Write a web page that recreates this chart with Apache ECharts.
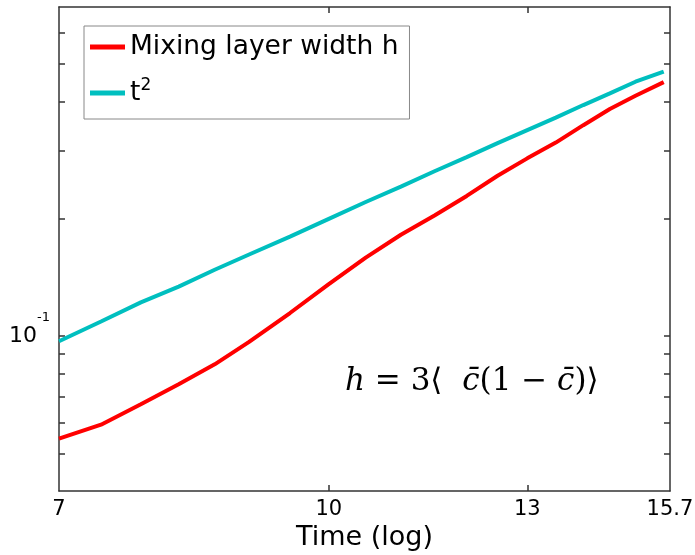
<!DOCTYPE html>
<html>
<head>
<meta charset="utf-8">
<script src="https://cdn.jsdelivr.net/npm/echarts@6/dist/echarts.min.js"></script>
<style>
html,body{margin:0;padding:0;background:#fff;}
#chart{width:695px;height:555px;}
</style>
</head>
<body>
<div id="chart"></div>
<script>
// Data
const times = [7, 7.4, 7.8, 8.2, 8.6, 9.0, 9.5, 10, 10.5, 11, 11.5, 12, 12.5, 13, 13.5, 14, 14.5, 15, 15.57];
const mixingWidth = [0.0545, 0.0592, 0.0668, 0.0752, 0.0846, 0.0966, 0.1146, 0.136, 0.159, 0.182, 0.204, 0.229, 0.258, 0.286, 0.314, 0.348, 0.383, 0.414, 0.449];
const tSquared = [0.097, 0.109, 0.122, 0.134, 0.148, 0.162, 0.180, 0.200, 0.221, 0.242, 0.265, 0.288, 0.313, 0.338, 0.364, 0.392, 0.420, 0.450, 0.478];
const seriesNames = ['Mixing layer width h', 't^2'];
const xTickLabels = [7, 10, 13, 15.7];
const xTicks = [10, 13];
const yTicks = [0.05, 0.06, 0.07, 0.08, 0.09, 0.1, 0.2, 0.3, 0.4, 0.5, 0.6];
const yTickLabels = [0.1];
const xName = 'Time (log)';
const formulaText = '{i|h} = 3\u27E8  {i|c\u0304}(1 \u2212 {i|c\u0304})\u27E9';

const FONT = 'DejaVu Sans';
const AXIS_COLOR = '#333';

const chart = echarts.init(document.getElementById('chart'), null, {renderer: 'canvas'});

function pairs(xs, ys) { return xs.map((x, i) => [x, ys[i]]); }

const xBase = {
  type: 'log', logBase: 10, min: 7, max: 15.7, gridIndex: 0,
  axisLine: {show: true, lineStyle: {color: AXIS_COLOR, width: 1.5}},
  splitLine: {show: false}, minorTick: {show: false}, minorSplitLine: {show: false}
};
const yBase = {
  type: 'log', logBase: 10, min: 0.04, max: 0.7, gridIndex: 0,
  axisLine: {show: true, lineStyle: {color: AXIS_COLOR, width: 1.5}},
  splitLine: {show: false}, minorTick: {show: false}, minorSplitLine: {show: false}
};

const option = {
  backgroundColor: '#fff',
  animation: false,
  grid: {left: 59, right: 25, top: 7, bottom: 64, outerBoundsMode: 'none', containLabel: false},
  title: {
    text: formulaText,
    left: 345, top: 364, padding: 0,
    textStyle: {
      fontFamily: 'DejaVu Serif', fontSize: 31, fontWeight: 'normal', color: '#000', lineHeight: 36,
      rich: {i: {fontFamily: 'DejaVu Serif', fontSize: 31, fontStyle: 'italic', color: '#000', lineHeight: 36}}
    }
  },
  legend: {
    left: 84, top: 26, orient: 'vertical',
    padding: [5, 11, 10, 6],
    itemGap: 14,
    itemWidth: 35, itemHeight: 5,
    icon: 'rect',
    backgroundColor: '#fff', borderColor: '#888', borderWidth: 1,
    data: seriesNames,
    formatter: function (name) {
      return name === 't^2' ? '{m|t}{s|2}' : '{m|' + name + '}';
    },
    textStyle: {
      fontFamily: FONT, fontSize: 26.5, color: '#000', lineHeight: 32,
      rich: {
        m: {fontFamily: FONT, fontSize: 26.5, color: '#000', lineHeight: 32},
        s: {fontFamily: FONT, fontSize: 17, color: '#000', lineHeight: 16, verticalAlign: 'top'}
      }
    }
  },
  xAxis: [
    Object.assign({}, xBase, {
      position: 'bottom',
      name: xName, nameLocation: 'middle', nameGap: 23,
      nameTextStyle: {fontFamily: FONT, fontSize: 27, color: '#000'},
      axisTick: {show: true, inside: true, length: 6, customValues: xTicks, lineStyle: {color: AXIS_COLOR, width: 1.5}},
      axisLabel: {show: true, customValues: xTickLabels, margin: 8, fontFamily: FONT, fontSize: 21, color: '#000',
        formatter: function (v) { return String(Math.round(v * 10) / 10); }}
    }),
    Object.assign({}, xBase, {
      position: 'top',
      axisTick: {show: true, inside: true, length: 6, customValues: xTicks, lineStyle: {color: AXIS_COLOR, width: 1.5}},
      axisLabel: {show: false}
    })
  ],
  yAxis: [
    Object.assign({}, yBase, {
      position: 'left',
      axisTick: {show: true, inside: true, length: 6, customValues: yTicks, lineStyle: {color: AXIS_COLOR, width: 1.5}},
      axisLabel: {show: true, customValues: yTickLabels, margin: 9, color: '#000',
        formatter: function () { return '{b|10}{s|-1}'; },
        rich: {
          b: {fontFamily: FONT, fontSize: 22, color: '#000', lineHeight: 50},
          s: {fontFamily: FONT, fontSize: 13, color: '#000', lineHeight: 14, verticalAlign: 'top'}
        }
      }
    }),
    Object.assign({}, yBase, {
      position: 'right',
      axisTick: {show: true, inside: true, length: 6, customValues: yTicks, lineStyle: {color: AXIS_COLOR, width: 1.5}},
      axisLabel: {show: false}
    })
  ],
  series: [
    {
      name: seriesNames[0], type: 'line', xAxisIndex: 0, yAxisIndex: 0,
      data: pairs(times, mixingWidth), showSymbol: false, symbol: 'none',
      lineStyle: {color: '#ff0000', width: 4}, itemStyle: {color: '#ff0000'}, z: 3
    },
    {
      name: seriesNames[1], type: 'line', xAxisIndex: 0, yAxisIndex: 0,
      data: pairs(times, tSquared), showSymbol: false, symbol: 'none',
      lineStyle: {color: '#00bfbf', width: 4}, itemStyle: {color: '#00bfbf'}, z: 2
    }
  ]
};
chart.setOption(option);
</script>
</body>
</html>
